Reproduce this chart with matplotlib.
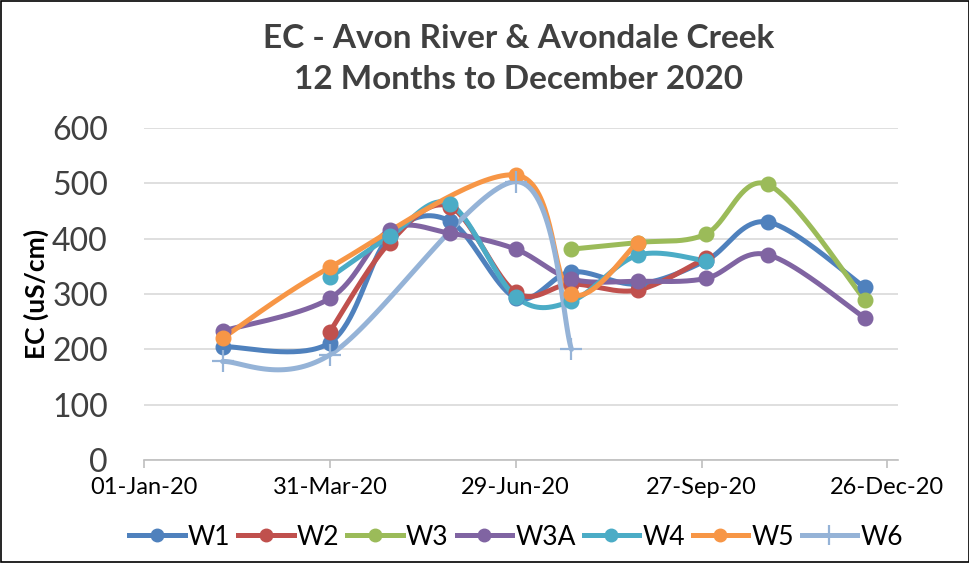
import matplotlib
matplotlib.use("Agg")
import matplotlib.pyplot as plt
import matplotlib.dates as mdates
from matplotlib.lines import Line2D
from matplotlib.patches import Rectangle
import numpy as np
import datetime as dt

plt.rcParams['font.family'] = ['Lato', 'DejaVu Sans']

# sample dates and readings (uS/cm); None = not sampled
dates = ['2020-02-08', '2020-03-31', '2020-04-29', '2020-05-28', '2020-06-29',
         '2020-07-26', '2020-08-27', '2020-09-29', '2020-10-29', '2020-12-15']
w1 = [205, 212, 405, 432, 293, 340, 318, 360, 430, 312]
w2 = [None, 232, 393, 458, 303, 318, 307, 365, None, None]
w3 = [None, None, None, None, None, 381, 393, 408, 498, 290]
w3a = [233, 292, 416, 410, 381, 327, 323, 328, 371, 257]
w4 = [None, 330, 404, 463, 295, 287, 370, 360, None, None]
w5 = [220, 348, None, None, 515, 300, 393, None, None, None]
w6 = [178, 190, None, None, 503, 200, None, None, None, None]

names = ['W1', 'W2', 'W3', 'W3A', 'W4', 'W5', 'W6']
series = [w1, w2, w3, w3a, w4, w5, w6]
colors = ['#4F81BD', '#C0504D', '#9BBB59', '#8064A2', '#4BACC6', '#F79646', '#95B3D7']

x_ticks = ['2020-01-01', '2020-03-31', '2020-06-29', '2020-09-27', '2020-12-26']


def smooth(xs, ys, n=40):
    # excel-ish smoothed line: cubic bezier, control points from neighbours / 6
    xs = np.asarray(xs, float)
    ys = np.asarray(ys, float)
    if len(xs) < 3:
        return xs, ys
    px, py = [], []
    for i in range(len(xs) - 1):
        i0 = max(i - 1, 0)
        i3 = min(i + 2, len(xs) - 1)
        c1x = xs[i] + (xs[i + 1] - xs[i0]) / 6
        c1y = ys[i] + (ys[i + 1] - ys[i0]) / 6
        c2x = xs[i + 1] - (xs[i3] - xs[i]) / 6
        c2y = ys[i + 1] - (ys[i3] - ys[i]) / 6
        t = np.linspace(0, 1, n)
        a, b, c, d = (1 - t) ** 3, 3 * t * (1 - t) ** 2, 3 * t ** 2 * (1 - t), t ** 3
        px.extend(a * xs[i] + b * c1x + c * c2x + d * xs[i + 1])
        py.extend(a * ys[i] + b * c1y + c * c2y + d * ys[i + 1])
    return np.array(px), np.array(py)


fig = plt.figure(figsize=(9.7, 5.63), dpi=100)
ax = fig.add_axes([0.1485, 0.183, 0.777, 0.5897])

xd = [mdates.date2num(dt.datetime.strptime(s, '%Y-%m-%d')) for s in dates]

for name, vals, col in zip(names, series, colors):
    xs = [x for x, v in zip(xd, vals) if v is not None]
    ys = [v for v in vals if v is not None]
    sx, sy = smooth(xs, ys)
    ax.plot(sx, sy, color=col, lw=3.6, solid_capstyle='round', zorder=3)
    if name == 'W6':
        ax.plot(xs, ys, ls='none', marker='+', ms=16, mew=1.6, color=col, zorder=4)
    else:
        ax.plot(xs, ys, ls='none', marker='o', ms=10.5, color=col, zorder=4)

ax.set_xlim(mdates.date2num(dt.datetime(2020, 1, 1)), mdates.date2num(dt.datetime(2020, 12, 31)))
ax.set_ylim(0, 600)
ax.set_yticks(range(0, 601, 100))
ax.set_xticks([mdates.date2num(dt.datetime.strptime(s, '%Y-%m-%d')) for s in x_ticks])
ax.xaxis.set_major_formatter(mdates.DateFormatter('%d-%b-%y'))

ax.grid(axis='y', color='#D9D9D9', lw=1.2)
ax.set_axisbelow(True)
for s in ['top', 'right', 'left']:
    ax.spines[s].set_visible(False)
ax.spines['bottom'].set_color('#BFBFBF')
ax.spines['bottom'].set_linewidth(1.2)
ax.tick_params(axis='y', length=0, labelsize=23, labelcolor='#404040', pad=26)
ax.tick_params(axis='x', length=6, color='#BFBFBF', width=1.2, labelsize=17,
               labelcolor='#000000', pad=6)

ax.set_ylabel('EC (uS/cm)', fontsize=19, fontweight='bold', labelpad=2)

fig.text(0.535, 0.932, 'EC - Avon River & Avondale Creek', ha='center', va='center',
         fontsize=24, fontweight='bold', color='#404040')
fig.text(0.535, 0.858, '12 Months to December 2020', ha='center', va='center',
         fontsize=24, fontweight='bold', color='#404040')

handles = []
for name, col in zip(names, colors):
    if name == 'W6':
        handles.append(Line2D([], [], color=col, lw=3.6, marker='+', ms=14, mew=1.6))
    else:
        handles.append(Line2D([], [], color=col, lw=3.6, marker='o', ms=9))
fig.legend(handles, names, loc='center', bbox_to_anchor=(0.532, 0.046), ncol=7,
           frameon=False, fontsize=19, handlelength=2.1, handletextpad=0.12,
           columnspacing=0.3)

fig.add_artist(Rectangle((0.001, 0.001), 0.998, 0.997, transform=fig.transFigure,
                         fill=False, ec='black', lw=1.2))

fig.savefig('out.png', dpi=100)
